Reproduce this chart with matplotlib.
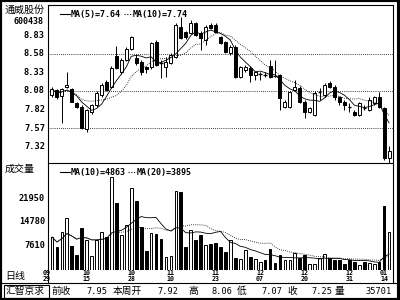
import matplotlib
matplotlib.use('Agg')
import matplotlib.pyplot as plt
from matplotlib.lines import Line2D
from matplotlib.patches import Rectangle
import pandas as pd

plt.rcParams['font.family'] = ['DejaVu Sans Mono', 'Noto Sans CJK SC']

# daily candles
opens = [8.02, 8.09, 8.01, 8.13, 8.10, 7.91, 7.86, 7.55, 7.79, 7.88,
         8.02, 8.20, 8.13, 8.55, 8.33, 8.50, 8.65, 8.53, 8.47, 8.40,
         8.40, 8.74, 8.47, 8.40, 8.46, 8.54, 8.95, 8.88, 8.87, 9.00,
         8.87, 8.77, 8.98, 8.98, 8.81, 8.74, 8.59, 8.68, 8.27, 8.36,
         8.39, 8.29, 8.31, 8.31, 8.41, 8.29, 8.29, 7.86, 7.86, 8.09,
         8.12, 7.93, 7.79, 7.75, 8.06, 8.02, 8.19, 8.13, 7.99, 7.93,
         7.87, 7.79, 7.75, 7.85, 7.82, 7.91, 7.99, 7.84, 7.16]
highs = [8.13, 8.10, 8.12, 8.33, 8.12, 7.93, 7.88, 7.83, 7.90, 8.08,
         8.18, 8.22, 8.41, 8.69, 8.52, 8.67, 8.83, 8.58, 8.50, 8.42,
         8.75, 8.77, 8.50, 8.54, 8.59, 9.00, 9.08, 8.90, 9.04, 9.02,
         8.89, 8.97, 9.00, 9.00, 8.83, 8.76, 8.70, 8.70, 8.42, 8.43,
         8.41, 8.35, 8.34, 8.33, 8.50, 8.50, 8.31, 7.95, 8.08, 8.22,
         8.14, 7.95, 7.86, 8.07, 8.12, 8.18, 8.21, 8.16, 8.01, 7.95,
         7.91, 7.82, 7.93, 7.88, 7.99, 8.01, 8.06, 7.86, 7.33]
lows = [7.99, 7.97, 7.64, 8.11, 7.92, 7.84, 7.56, 7.52, 7.76, 7.86,
        8.00, 8.07, 8.11, 8.37, 8.31, 8.48, 8.63, 8.43, 8.30, 8.32,
        8.38, 8.41, 8.25, 8.27, 8.44, 8.52, 8.78, 8.79, 8.85, 8.82,
        8.63, 8.70, 8.92, 8.86, 8.71, 8.59, 8.57, 8.25, 8.25, 8.34,
        8.20, 8.22, 8.22, 8.26, 8.25, 8.26, 7.82, 7.84, 7.84, 8.07,
        7.91, 7.71, 7.77, 7.73, 7.95, 8.00, 8.11, 7.95, 7.88, 7.82,
        7.79, 7.73, 7.73, 7.82, 7.80, 7.89, 7.84, 7.14, 7.07]
closes = [8.10, 7.99, 8.10, 8.16, 7.93, 7.86, 7.57, 7.82, 7.88, 8.05,
          8.16, 8.09, 8.39, 8.39, 8.50, 8.65, 8.81, 8.46, 8.33, 8.38,
          8.73, 8.43, 8.46, 8.47, 8.57, 8.98, 8.80, 8.81, 9.00, 8.84,
          8.80, 8.95, 8.94, 8.88, 8.73, 8.61, 8.68, 8.27, 8.40, 8.40,
          8.29, 8.33, 8.31, 8.30, 8.27, 8.28, 7.98, 7.93, 8.06, 8.13,
          7.93, 7.79, 7.84, 8.05, 8.06, 8.16, 8.13, 7.99, 7.93, 7.88,
          7.86, 7.75, 7.91, 7.84, 7.95, 7.99, 7.86, 7.16, 7.25]
volumes = [10070, 7000, 11600, 15900, 7300, 4600, 12800, 9150, 4300, 9150,
           11600, 10000, 28400, 20400, 10700, 13700, 25000, 21000, 13100, 5800,
           11300, 11000, 9450, 4000, 4300, 24100, 23800, 7000, 12200, 9150,
           10700, 7600, 7900, 8200, 7000, 5500, 9150, 3700, 3400, 6100,
           4000, 3400, 2400, 3000, 6400, 2100, 4600, 3000, 3000, 5200,
           3700, 4600, 1800, 1800, 3700, 4900, 3700, 3000, 3000, 1800,
           3000, 2400, 1500, 2400, 2100, 1800, 2400, 19600, 11600]

date_labels = ['09\n29', '10\n15', '10\n28', '11\n10', '11\n23',
               '12\n07', '12\n20', '12\n31', '01\n14']
date_pos = [0, 8, 17, 25, 34, 43, 52, 61, 68]
price_ticks = [8.83, 8.58, 8.33, 8.08, 7.82, 7.57, 7.32]
price_grid = [8.58, 8.08, 7.57]
vol_ticks = [21950, 14780, 7610]

W, H = 400, 300
fig = plt.figure(figsize=(4, 3), dpi=100)


def box(l, t, r, b):
    return [l / W, 1 - b / H, (r - l) / W, (b - t) / H]


ax = fig.add_axes(box(48, 5, 393, 163))
axv = fig.add_axes(box(48, 163, 393, 270))
n = len(closes)
x = list(range(n))

for a in (ax, axv):
    a.set_xlim(-0.8, n - 0.2)
    a.set_xticks([])
    a.set_yticks([])
    for s in a.spines.values():
        s.set_visible(False)

ax.set_ylim(7.093, 9.248)
axv.set_ylim(0, 32640)

# candles
for i in x:
    o, c = opens[i], closes[i]
    up = c >= o
    ax.vlines(i, lows[i], highs[i], color='black', lw=0.7, zorder=2)
    h = abs(c - o)
    if h < 0.015:
        ax.hlines(c, i - 0.35, i + 0.35, color='black', lw=1, zorder=3)
    else:
        ax.bar(i, h, bottom=min(o, c), width=0.6,
               facecolor='white' if up else 'black',
               edgecolor='black', lw=0.7, zorder=3)

s = pd.Series(closes)
ax.plot(x, s.rolling(5, min_periods=1).mean(), color='black', lw=0.6, zorder=4)
ax.plot(x, s.rolling(10, min_periods=1).mean(), color='black', lw=0.6,
        ls=(0, (1, 1.5)), zorder=4)
for g in price_grid:
    ax.axhline(g, color='black', lw=0.6, ls=(0, (1, 1.5)), zorder=1)

# volume
for i in x:
    up = closes[i] >= opens[i]
    axv.bar(i, volumes[i], width=0.55, facecolor='white' if up else 'black',
            edgecolor='black', lw=0.7)
v = pd.Series(volumes)
axv.plot(x, v.rolling(10, min_periods=1).mean(), color='black', lw=0.6, zorder=4)
axv.plot(x, v.rolling(20, min_periods=1).mean(), color='black', lw=0.6,
         ls=(0, (1, 1.5)), zorder=4)

# overlay in pixel coordinates for frame and labels
ov = fig.add_axes([0, 0, 1, 1], facecolor='none')
ov.set_xlim(0, W)
ov.set_ylim(H, 0)
ov.axis('off')
for seg in [((48, 4.5), (393, 4.5)), ((48, 4.5), (48, 283)),
            ((393, 4.5), (393, 283)), ((48, 163), (393, 163)),
            ((0, 283), (397, 283))]:
    ov.add_line(Line2D([seg[0][0], seg[1][0]], [seg[0][1], seg[1][1]],
                       color='black', lw=0.8))
ov.add_patch(Rectangle((0, 0), 400, 300, fill=False, lw=3, ec='black'))
ov.add_line(Line2D([396.5, 396.5], [0, 300], color='black', lw=0.8))
ov.add_patch(Rectangle((4, 284.5), 45, 13, fill=False, lw=0.8, ec='black'))

ov.text(5, 10, '通威股份', fontsize=7.2, va='center', ha='left',
        family=['Noto Sans CJK SC'])
ov.text(44, 21, '600438', fontsize=6, va='center', ha='right', weight='bold')
for p in price_ticks:
    yy = 5 + (9.248 - p) / (9.248 - 7.093) * 158
    ov.text(45, yy, f'{p:.2f}', fontsize=6.2, va='center', ha='right', weight='bold')
ov.text(5, 168.5, '成交量', fontsize=7.2, va='center', ha='left',
        family=['Noto Sans CJK SC'])
for vt in vol_ticks:
    yy = 270 - vt / 32640 * 107
    ov.text(45, yy, f'{vt}', fontsize=6.2, va='center', ha='right', weight='bold')

# legends
ov.add_line(Line2D([60, 70], [14, 14], color='black', lw=0.8))
ov.text(70.5, 14, 'MA(5)=7.64', fontsize=6, va='center', ha='left', weight='bold')
ov.add_line(Line2D([124, 133], [14, 14], color='black', lw=0.8, ls=(0, (1, 1.5))))
ov.text(133, 14, 'MA(10)=7.74', fontsize=6, va='center', ha='left', weight='bold')
ov.add_line(Line2D([60, 70], [172, 172], color='black', lw=0.8))
ov.text(70.5, 172, 'MA(10)=4863', fontsize=6, va='center', ha='left', weight='bold')
ov.add_line(Line2D([128, 137], [172, 172], color='black', lw=0.8, ls=(0, (1, 1.5))))
ov.text(137, 172, 'MA(20)=3895', fontsize=6, va='center', ha='left', weight='bold')

# dates
ov.text(5, 276, '日线', fontsize=7.2, va='center', ha='left', family=['Noto Sans CJK SC'])
for lab, pos in zip(date_labels, date_pos):
    xx = 48 + (pos + 0.8) / (n - 0.2 + 0.8) * 345 - 5
    ov.text(xx, 276, lab, fontsize=4.8, va='center', ha='center', weight='bold',
            linespacing=0.95)

# bottom quote row: labels left-aligned, numbers right-aligned
labels_row = [(6, '汇智京求'), (52, '前收'), (113, '本周开'), (188, '高'),
              (237, '低'), (287, '收'), (335, '量')]
numbers_row = [(107, '7.95'), (178, '7.92'), (232, '8.06'), (282, '7.07'),
               (332, '7.25'), (392, '35701')]
for xx, t in labels_row:
    ov.text(xx, 291, t, fontsize=7, va='center', ha='left',
            family=['Noto Sans CJK SC'])
for xx, t in numbers_row:
    ov.text(xx, 291, t, fontsize=6.2, va='center', ha='right')

fig.savefig('out.png', dpi=100)
